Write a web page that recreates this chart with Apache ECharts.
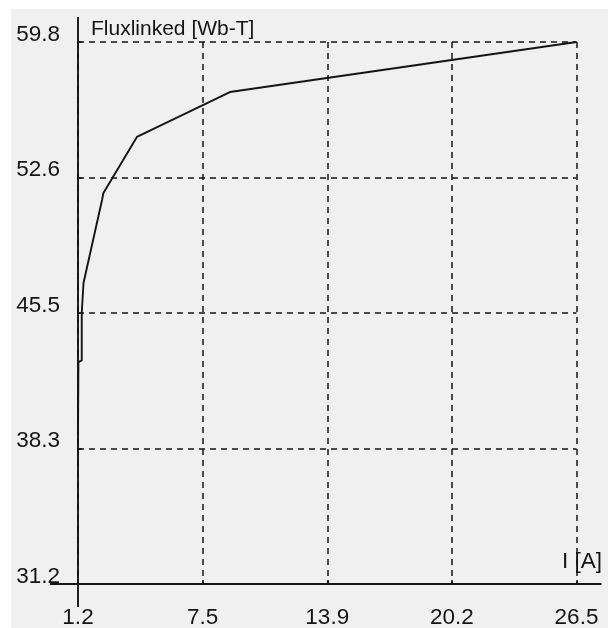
<!DOCTYPE html>
<html>
<head>
<meta charset="utf-8">
<script src="https://cdn.jsdelivr.net/npm/echarts@6/dist/echarts.min.js"></script>
<style>
  html, body { margin: 0; padding: 0; background: #ffffff; }
  #chart { width: 608px; height: 628px; }
</style>
</head>
<body>
<div id="chart"></div>
<script>
// Magnetisation curve: flux linkage against current
const current = [1.2, 1.22, 1.39, 1.39, 1.47, 1.48, 2.42, 2.49, 4.19, 8.91, 26.5];
const fluxLinked = [39.06, 42.91, 43.0, 45.5, 45.6, 47.08, 51.46, 51.83, 54.79, 57.16, 59.8];

const xTickLabels = ['1.2', '7.5', '13.9', '20.2', '26.5'];
const yTickLabels = ['31.2', '38.3', '45.5', '52.6', '59.8'];

const xMin = 1.2, xMax = 26.5, xStep = 6.325;
const yMin = 31.2, yMax = 59.8, yStep = 7.15;

const FONT = "'Liberation Sans', Arial, sans-serif";
const INK = '#141414';
const TEXT = '#141414';
const FS = 22.5;

const chart = echarts.init(document.getElementById('chart'), null, { renderer: 'canvas' });

const dashed = { type: [6, 5], color: INK, width: 1.5 };

chart.setOption({
  animation: false,
  backgroundColor: '#f0f0f0',
  grid: { left: 78, right: 31.5, top: 42, bottom: 44, outerBoundsMode: 'none' },
  xAxis: {
    type: 'value',
    min: xMin, max: xMax, interval: xStep,
    axisLine: { show: false },
    axisTick: { show: true, inside: true, length: 4, lineStyle: { color: INK, width: 1.5 } },
    splitLine: { show: true, lineStyle: dashed },
    axisLabel: {
      formatter: (v, i) => xTickLabels[i],
      margin: 23,
      fontFamily: FONT, fontSize: FS, color: TEXT,
      verticalAlign: 'top', lineHeight: 22
    },
    name: 'I [A]',
    nameLocation: 'end',
    nameGap: 25.5,
    nameTextStyle: {
      fontFamily: FONT, fontSize: FS, color: TEXT, lineHeight: 22,
      align: 'right', verticalAlign: 'bottom', padding: [0, 0, 11, 0]
    }
  },
  yAxis: {
    type: 'value',
    min: yMin, max: yMax, interval: yStep,
    axisLine: { show: false },
    axisTick: { show: true, inside: true, length: 4, lineStyle: { color: INK, width: 1.5 } },
    splitLine: { show: true, lineStyle: dashed },
    axisLabel: {
      formatter: (v, i) => yTickLabels[i],
      margin: 18,
      fontFamily: FONT, fontSize: FS, color: TEXT,
      verticalAlign: 'bottom', lineHeight: 15
    },
    name: 'Fluxlinked [Wb-T]',
    nameLocation: 'end',
    nameGap: 13,
    nameTextStyle: {
      fontFamily: FONT, fontSize: 21, color: TEXT, lineHeight: 22,
      align: 'left', verticalAlign: 'middle', padding: [0, 0, 0, 13]
    }
  },
  series: [{
    type: 'line',
    data: current.map((c, i) => [c, fluxLinked[i]]),
    symbol: 'none',
    smooth: false,
    lineStyle: { color: INK, width: 1.9 },
    z: 5
  }]
});

// Solid axis lines that run past the plotting area, plus the white frame strips
const origin = chart.convertToPixel({ gridIndex: 0 }, [xMin, yMin]);
const corner = chart.convertToPixel({ gridIndex: 0 }, [xMax, yMax]);
const axisStyle = { stroke: INK, lineWidth: 1.9 };

chart.setOption({
  graphic: [
    { type: 'rect', shape: { x: 0, y: 0, width: 608, height: 9 }, style: { fill: '#ffffff' }, silent: true },
    { type: 'rect', shape: { x: 0, y: 0, width: 11, height: 628 }, style: { fill: '#ffffff' }, silent: true },
    {
      type: 'line', silent: true, z: 10,
      shape: { x1: origin[0] - 28, y1: origin[1], x2: corner[0] + 25, y2: origin[1] },
      style: axisStyle
    },
    {
      type: 'line', silent: true, z: 10,
      shape: { x1: origin[0], y1: corner[1] - 25, x2: origin[0], y2: origin[1] + 23 },
      style: axisStyle
    }
  ]
});
</script>
</body>
</html>
